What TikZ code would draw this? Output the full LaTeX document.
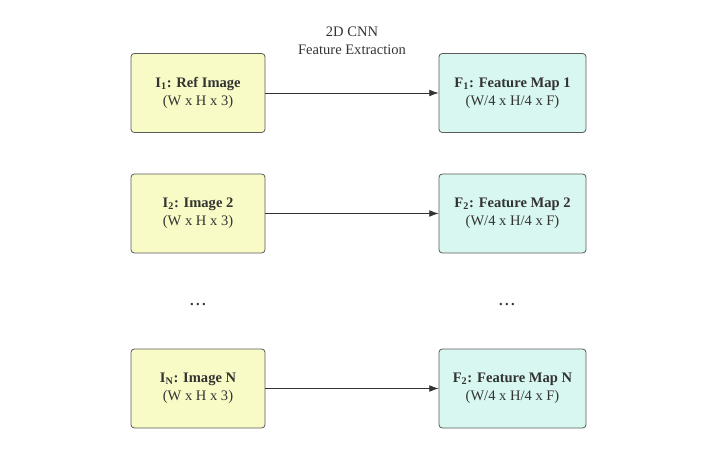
\documentclass[tikz,border=0pt]{standalone}
\usepackage{fontspec}
\setmainfont{Liberation Serif}
\usetikzlibrary{arrows.meta,positioning}

\definecolor{imgfill}{HTML}{F9FBC6}
\definecolor{mapfill}{HTML}{D8F7F1}
\definecolor{boxline}{HTML}{5A5A5A}
\definecolor{textgray}{HTML}{333333}

\tikzset{
	imgbox/.style={shape=rectangle, draw=boxline, fill=imgfill, rounded corners=2.5pt, line width=0.6pt,
		minimum width=100.5pt, minimum height=59.25pt, inner sep=0pt, align=center, text=textgray,
		font=\fontsize{10.9}{13.5}\selectfont},
	mapbox/.style={imgbox, fill=mapfill, minimum width=110.25pt},
	plain/.style={align=center, text=textgray, font=\fontsize{10.9}{13.5}\selectfont},
	link/.style={draw=textgray, line width=0.5pt, -{Latex[length=7pt,width=5pt]}}
}

\begin{document}
\begin{tikzpicture}[x=0.75pt, y=-0.75pt]
	\useasboundingbox (0,0) rectangle (716,466);
	\path (198,93) node (i1) [imgbox] {\textbf{I\textsubscript{1}: Ref Image}\\(W x H x 3)}
		  (198,213.5) node (i2) [imgbox] {\textbf{I\textsubscript{2}: Image 2}\\(W x H x 3)}
		  (198,388.5) node (iN) [imgbox] {\textbf{I\textsubscript{N}: Image N}\\(W x H x 3)}
		  (512.5,93) node (f1) [mapbox] {\textbf{F\textsubscript{1}: Feature Map 1}\\(W/4 x H/4 x F)}
		  (512.5,213.5) node (f2) [mapbox] {\textbf{F\textsubscript{2}: Feature Map 2}\\(W/4 x H/4 x F)}
		  (512.5,388.5) node (fN) [mapbox] {\textbf{F\textsubscript{2}: Feature Map N}\\(W/4 x H/4 x F)}
		  (198,305) node (idots) [plain] {\textbf{.\,.\,.}}
		  (507,305) node (fdots) [plain] {\textbf{.\,.\,.}}
		  (352,40.5) node (cnn) [plain] {2D CNN\\Feature Extraction};
	\draw[link] (i1) -- (f1);
	\draw[link] (i2) -- (f2);
	\draw[link] (iN) -- (fN);
\end{tikzpicture}
\end{document}
